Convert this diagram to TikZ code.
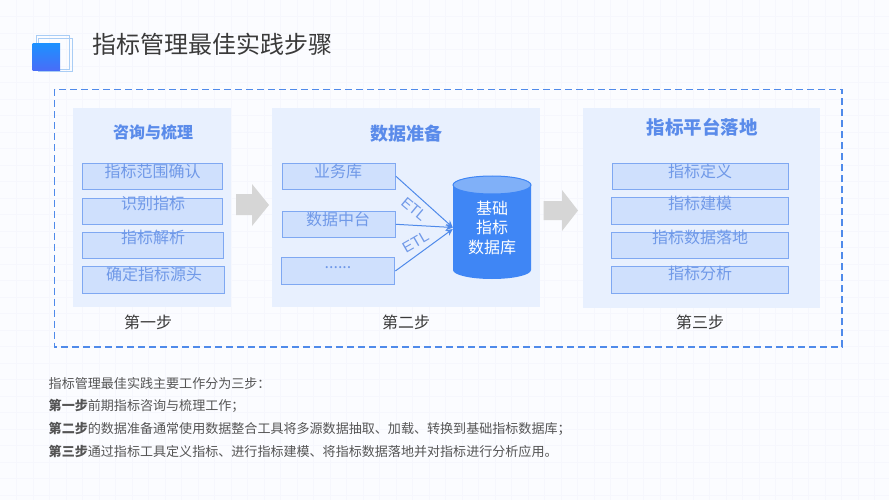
\documentclass[tikz,border=0pt]{standalone}
\usepackage{fontspec}
\setmainfont{Noto Sans CJK SC}
\newfontfamily\latinf{Liberation Sans}
\usetikzlibrary{arrows.meta}
\definecolor{bgc}{HTML}{FBFCFF}
\definecolor{gridc}{HTML}{F6F7FD}
\definecolor{panelc}{HTML}{E8F0FE}
\definecolor{boxf}{HTML}{CFE0FD}
\definecolor{boxd}{HTML}{7FA8F2}
\definecolor{boxt}{HTML}{7099E8}
\definecolor{headc}{HTML}{5A8BEA}
\definecolor{dashc}{HTML}{4F8AEA}
\definecolor{dbc}{HTML}{3F86F5}
\definecolor{dbtop}{HTML}{80B0F8}
\definecolor{arrc}{HTML}{D6D6D6}
\definecolor{inkc}{HTML}{3A3A3A}
\definecolor{bodyc}{HTML}{555555}
\definecolor{icontop}{HTML}{1E90FF}
\definecolor{iconbot}{HTML}{4A6CF7}
\definecolor{iconline}{HTML}{A9CDF5}
\tikzset{
  x=1pt,y=-1pt,
  panel/.style={fill=panelc,draw=none},
  boxr/.style={fill=boxf,draw=boxd,line width=0.9pt},
  boxtxt/.style={inner sep=0pt,text=boxt,font=\fontsize{16}{16}\selectfont},
  heading/.style={inner sep=0pt,text=headc,font=\fontsize{#1}{#1}\selectfont\bfseries},
  steplabel/.style={inner sep=0pt,text=inkc,font=\fontsize{16}{16}\selectfont},
  bodyline/.style={inner sep=0pt,anchor=west,text=bodyc,font=\fontsize{13.05}{13.05}\selectfont},
  etl/.style={inner sep=0pt,text=boxt,font=\latinf\fontsize{15}{15}\selectfont},
  etlline/.style={draw=dashc,line width=1pt,-{Stealth[length=7pt,width=6.5pt]}},
  grayarrow/.style={fill=arrc,draw=none},
  iconframe/.style={draw=iconline,line width=0.7pt}
}
\begin{document}
\begin{tikzpicture}
\useasboundingbox (0,0) rectangle (889,500);
\fill[bgc] (0,0) rectangle (889,500);
\foreach \gx in {16.5,33,...,889} \draw[gridc,line width=0.7pt] (\gx,0) -- (\gx,500);
\foreach \gy in {16.5,33,...,500} \draw[gridc,line width=0.7pt] (0,\gy) -- (889,\gy);

% icon
\draw[iconframe] (36,35.5) rectangle (69.5,69);
\draw[iconframe] (38.5,38) rectangle (72,71);
\shade[top color=icontop,bottom color=iconbot] (32.5,44) rectangle (60,71);
\node[inner sep=0pt,anchor=west,text=inkc,font=\fontsize{24}{24}\selectfont] (title) at (92,44) {指标管理最佳实践步骤};

% frame
\draw[dashc,line width=1.1pt,dash pattern=on 7pt off 4pt] (54.5,89.5) rectangle (842,347);

% panels
\fill[panel] (73,108) rectangle (231,307);
\fill[panel] (271.5,108) rectangle (540,307);
\fill[panel] (582.5,108) rectangle (820,307.5);

% gray arrows
\fill[grayarrow] (236,194) -- (252,194) -- (252,184) -- (269,205) -- (252,226) -- (252,215) -- (236,215) -- cycle;
\fill[grayarrow] (543.5,201) -- (562,201) -- (562,190) -- (578,210.5) -- (562,231) -- (562,220) -- (543.5,220) -- cycle;

% headings
\node[heading=16] (h1) at (153,132) {咨询与梳理};
\node[heading=18] (h2) at (406,133.5) {数据准备};
\node[heading=18.5] (h3) at (702,127) {指标平台落地};

% panel 1
\draw[boxr] (82,163) rectangle (222.7,189.5);
\draw[boxr] (82,198) rectangle (222.7,224.5);
\draw[boxr] (82.5,232) rectangle (223.7,258.5);
\draw[boxr] (82.5,266.5) rectangle (224.3,293);
\node[boxtxt] (a1) at (152.5,171) {指标范围确认};
\node[boxtxt] (a2) at (153,203.5) {识别指标};
\node[boxtxt] (a3) at (153,237) {指标解析};
\node[boxtxt] (a4) at (154,274) {确定指标源头};

% panel 2 sources
\node[boxr,inner sep=0pt,minimum width=113.2pt,minimum height=26pt] (b1) at (338.9,176.3) {};
\node[boxr,inner sep=0pt,minimum width=113.2pt,minimum height=26.5pt] (b2) at (338.9,224.3) {};
\node[boxr,inner sep=0pt,minimum width=113.4pt,minimum height=26.5pt] (b3) at (338.2,271) {};
\node[boxtxt] (b1t) at (338,171) {业务库};
\node[boxtxt] (b2t) at (338,219) {数据中台};
\node[boxtxt] (b3t) at (338,268) {......};

% database
\fill[dbc] (453,185) -- (453,270) arc[start angle=180,end angle=360,x radius=39,y radius=-9] -- (531,185) -- cycle;
\fill[dbtop,draw=dbc,line width=1pt] (492,185) ellipse[x radius=39,y radius=9];
\node[inner sep=0pt,minimum width=78pt,align=center,text=white,font=\fontsize{16}{19.5}\selectfont] (db) at (492,227.5) {基础\\指标\\数据库};

\draw[etlline] (b1.east) -- (db.west);
\draw[etlline] (b2.east) -- (db.west);
\draw[etlline] (b3.east) -- ([yshift=-1.5pt]db.west);
\node[etl,rotate=-40] (e1) at (414,209) {ETL};
\node[etl,rotate=30] (e2) at (415.5,242) {ETL};

% panel 3
\draw[boxr] (612,163) rectangle (788,189.5);
\draw[boxr] (611.5,197.5) rectangle (788.7,224);
\draw[boxr] (611.5,232.5) rectangle (788.7,258);
\draw[boxr] (611.5,266.5) rectangle (788.7,293);
\node[boxtxt] (c1) at (700,171) {指标定义};
\node[boxtxt] (c2) at (700,203) {指标建模};
\node[boxtxt] (c3) at (700,237) {指标数据落地};
\node[boxtxt] (c4) at (700,273.5) {指标分析};

% step labels
\node[steplabel] (s1) at (148,322) {第一步};
\node[steplabel] (s2) at (406,322) {第二步};
\node[steplabel] (s3) at (700,322) {第三步};

% body
\node[bodyline] (t1) at (48.5,384) {指标管理最佳实践主要工作分为三步：};
\node[bodyline] (t2) at (48.5,406) {\textbf{第一步}前期指标咨询与梳理工作；};
\node[bodyline] (t3) at (48.5,429) {\textbf{第二步}的数据准备通常使用数据整合工具将多源数据抽取、加载、转换到基础指标数据库；};
\node[bodyline] (t4) at (48.5,451) {\textbf{第三步}通过指标工具定义指标、进行指标建模、将指标数据落地并对指标进行分析应用。};
\end{tikzpicture}
\end{document}
